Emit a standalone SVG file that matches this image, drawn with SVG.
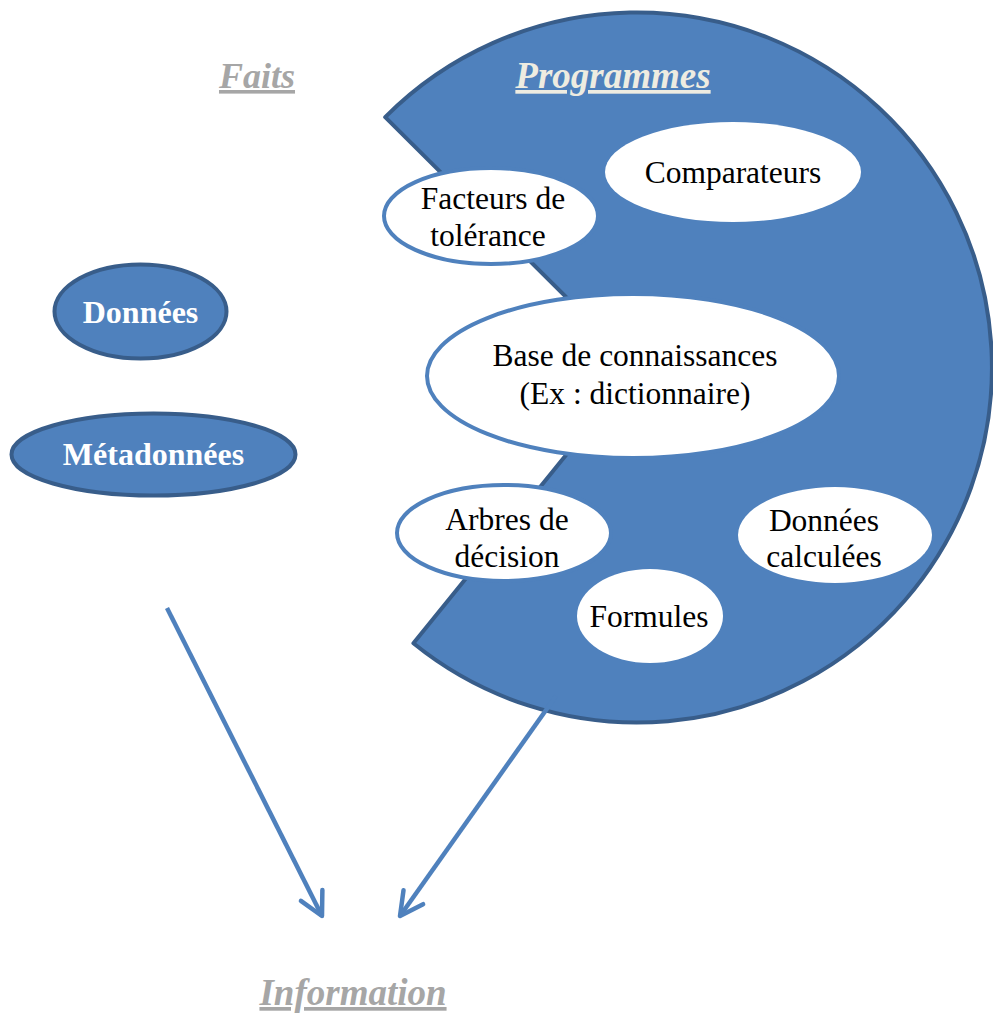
<svg xmlns="http://www.w3.org/2000/svg" width="993" height="1014" viewBox="0 0 993 1014">
<style>
.lbl{font-family:"Liberation Serif","Times New Roman",serif;font-size:31.5px;fill:#000;text-anchor:middle}
.blue{font-family:"Liberation Serif","Times New Roman",serif;font-size:32px;font-weight:bold;fill:#fff;text-anchor:middle}
.title{font-family:"Liberation Serif","Times New Roman",serif;font-weight:bold;font-style:italic;text-decoration:underline;text-anchor:middle}
.wo{fill:#fff;stroke:#4f81bd;stroke-width:4}
.wn{fill:#fff;stroke:none}
.be{fill:#4f81bd;stroke:#385d8a;stroke-width:4}
.conn{fill:none;stroke:#4f81bd;stroke-width:4.5;marker-end:url(#ah)}
</style>
<defs>
<marker id="ah" markerUnits="userSpaceOnUse" orient="auto" markerWidth="40" markerHeight="40" refX="0" refY="0" viewBox="-30 -20 40 40" overflow="visible">
<path d="M -23,-12 L 0,0 L -23,12" fill="none" stroke="#4f81bd" stroke-width="4.5" stroke-linecap="round" stroke-linejoin="round"/>
</marker>
</defs>
<rect width="993" height="1014" fill="#fff"/>
<g id="programmes">
<path d="M 385.2,117.2 A 355 355 0 1 1 413.4,643.3 L 637,367.5 Z" fill="#4f81bd" stroke="#385d8a" stroke-width="4" stroke-linejoin="round"/>
<text class="title" x="613" y="88" font-size="37" fill="#eeece1">Programmes</text>
</g>
<g id="faits"><text class="title" x="257" y="88" font-size="36" fill="#a6a6a6">Faits</text></g>
<g id="information"><text class="title" x="353" y="1005" font-size="37" fill="#a6a6a6">Information</text></g>
<g id="donnees"><ellipse class="be" cx="140.5" cy="311.5" rx="86" ry="47"/><text class="blue" x="140.5" y="323">Données</text></g>
<g id="metadonnees"><ellipse class="be" cx="153.5" cy="454.5" rx="142" ry="41"/><text class="blue" x="153.5" y="465">Métadonnées</text></g>
<g id="comparateurs"><ellipse class="wn" cx="733" cy="172" rx="128" ry="50"/><text class="lbl" x="733" y="183">Comparateurs</text></g>
<g id="facteurs"><ellipse class="wo" cx="491" cy="216" rx="107" ry="48"/><text class="lbl" x="493" y="209">Facteurs de</text><text class="lbl" x="488" y="246">tolérance</text></g>
<g id="base"><ellipse class="wo" cx="633" cy="376" rx="206" ry="82"/><text class="lbl" x="635" y="366">Base de connaissances</text><text class="lbl" x="635" y="404">(Ex : dictionnaire)</text></g>
<g id="arbres"><ellipse class="wo" cx="504" cy="533" rx="107" ry="48"/><text class="lbl" x="507" y="530">Arbres de</text><text class="lbl" x="507" y="567">décision</text></g>
<g id="formules"><ellipse class="wn" cx="650" cy="616" rx="73" ry="47"/><text class="lbl" x="649" y="627">Formules</text></g>
<g id="calculees"><ellipse class="wn" cx="835" cy="535" rx="97" ry="48"/><text class="lbl" x="824" y="531">Données</text><text class="lbl" x="824" y="567">calculées</text></g>
<g id="connectors">
<line class="conn" x1="167" y1="608" x2="322" y2="916"/>
<line class="conn" x1="556" y1="696" x2="400" y2="916"/>
</g>
</svg>
